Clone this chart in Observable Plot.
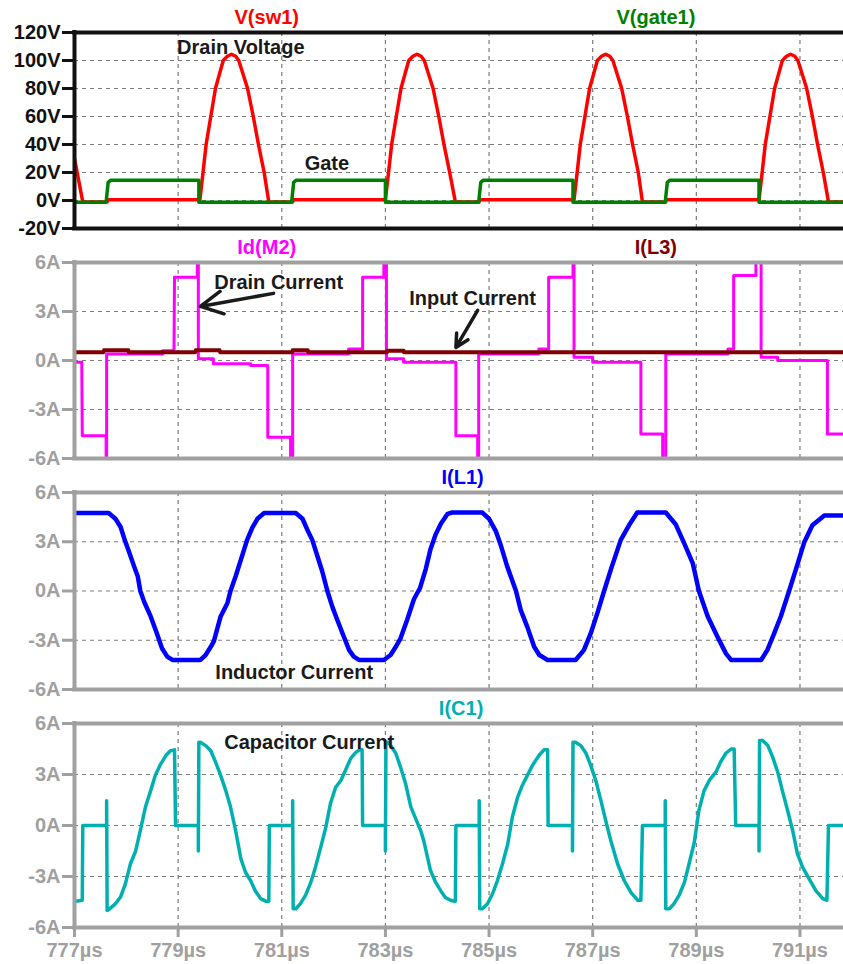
<!DOCTYPE html>
<html><head><meta charset="utf-8">
<script src="https://cdn.jsdelivr.net/npm/d3@7"></script>
<script src="https://cdn.jsdelivr.net/npm/@observablehq/plot@0.6"></script>
<style>
body{margin:0;background:#fff;}
#chart svg{display:block;}
</style>
</head><body><div id="chart"></div>
<script>
// ---------- data (time in µs) ----------
const xDomain = [777, 791.84];
const xTicks = [777, 779, 781, 783, 785, 787, 789, 791];
const vTicks = [-20, 0, 20, 40, 60, 80, 100, 120];
const aTicks = [-6, -3, 0, 3, 6];

// V(sw1) drain voltage [t, V]
const vSw1 = [[777.00,30],[777.16,-1],[777.63,-1],[777.64,0.5],[779.42,0.5],
 [779.48,20],[779.54,40],[779.63,60],[779.72,80],[779.87,100],[779.95,103],[780.03,104.5],[780.11,103],[780.17,100],[780.34,80],[780.45,60],[780.55,40],[780.66,20],[780.75,-1],
 [781.21,-1],[781.22,0.5],[783.00,0.5],
 [783.06,20],[783.12,40],[783.21,60],[783.30,80],[783.45,100],[783.53,103],[783.61,104.5],[783.69,103],[783.75,100],[783.92,80],[784.03,60],[784.13,40],[784.24,20],[784.35,-1],
 [784.81,-1],[784.82,0.5],[786.64,0.5],
 [786.70,20],[786.76,40],[786.85,60],[786.94,80],[787.09,100],[787.17,103],[787.25,104.5],[787.33,103],[787.39,100],[787.56,80],[787.67,60],[787.77,40],[787.88,20],[787.96,-1],
 [788.41,-1],[788.42,0.5],[790.21,0.5],
 [790.27,20],[790.33,40],[790.42,60],[790.51,80],[790.66,100],[790.74,103],[790.82,104.5],[790.90,103],[790.96,100],[791.13,80],[791.24,60],[791.34,40],[791.45,20],[791.55,-1],[791.84,-1]];

// V(gate1) [t, V]
const vGate1 = [[777.00,-1.2],[777.61,-1.2],[777.65,13],[777.70,14.5],[779.40,14.5],[779.40,-1.2],
 [781.19,-1.2],[781.23,13],[781.28,14.5],[783.00,14.5],[783.00,-1.2],
 [784.80,-1.2],[784.84,13],[784.89,14.5],[786.62,14.5],[786.62,-1.2],
 [788.40,-1.2],[788.44,13],[788.49,14.5],[790.21,14.5],[790.21,-1.2],[791.84,-1.2]];

// Id(M2) [t, A]
const idM2 = [[777.00,-0.1],[777.14,-0.1],[777.15,-4.6],[777.61,-4.6],[777.61,-8],[777.62,-8],[777.62,0.4],[778.70,0.4],[778.70,0.6],[778.92,0.6],[778.93,5.1],[779.37,5.1],[779.37,8],[779.39,8],[779.39,0.1],[779.68,0.1],[779.68,-0.2],[780.40,-0.2],[780.40,-0.3],[780.73,-0.3],[780.73,-4.7],[781.17,-4.7],[781.17,-8],[781.21,-8],[781.21,0.4],
 [782.29,0.4],[782.29,0.7],[782.56,0.7],[782.56,5.1],[782.97,5.1],[782.97,8],[783.02,8],[783.02,0.1],[783.35,0.1],[783.35,-0.1],[784.36,-0.1],[784.36,-4.6],[784.78,-4.6],[784.78,-8],[784.80,-8],[784.80,0.4],
 [785.96,0.4],[785.96,0.7],[786.15,0.7],[786.15,5.1],[786.62,5.1],[786.62,8],[786.64,8],[786.64,0.2],[787.00,0.2],[787.00,-0.1],[787.93,-0.1],[787.93,-4.5],[788.35,-4.5],[788.35,-8],[788.41,-8],[788.41,0.4],
 [789.61,0.4],[789.61,0.7],[789.72,0.7],[789.72,5.2],[790.15,5.2],[790.15,8],[790.25,8],[790.25,0.2],[790.57,0.2],[790.57,0.0],[791.53,0.0],[791.53,-4.5],[791.84,-4.5]];

// I(L3) input current [t, A]
const iL3 = [[777.00,0.5],[777.56,0.5],[777.57,0.62],[778.04,0.62],[778.05,0.5],[779.33,0.5],[779.34,0.62],[779.80,0.62],[779.81,0.5],
 [781.20,0.5],[781.21,0.62],[781.50,0.62],[781.51,0.5],[783.03,0.5],[783.04,0.6],[783.35,0.6],[783.36,0.5],[791.84,0.5]];

// I(L1) inductor current [t, A]
const iL1 = [[777.00,4.75],[777.66,4.75],[777.79,4.4],[777.89,3.9],[777.97,3.1],[778.05,2.4],[778.15,1.5],[778.22,0.9],[778.27,0],[778.35,-0.7],[778.47,-1.55],[778.58,-2.5],[778.69,-3.5],[778.79,-4.0],[778.89,-4.2],
 [779.43,-4.2],[779.53,-3.9],[779.63,-3.4],[779.69,-3.05],[779.82,-1.55],[779.95,-0.75],[780.01,0],[780.11,0.9],[780.21,1.9],[780.33,3.1],[780.43,3.85],[780.53,4.4],[780.66,4.75],
 [781.27,4.75],[781.40,4.4],[781.49,3.75],[781.59,3.1],[781.69,2.1],[781.78,1.2],[781.88,0],[781.98,-1.0],[782.07,-1.75],[782.20,-2.8],[782.30,-3.6],[782.39,-4.0],[782.49,-4.2],
 [782.97,-4.2],[783.10,-3.9],[783.20,-3.4],[783.29,-2.9],[783.42,-1.75],[783.55,-0.5],[783.67,0.2],[783.78,1.35],[783.87,2.55],[783.97,3.45],[784.07,4.1],[784.20,4.7],[784.29,4.78],
 [784.87,4.78],[785.00,4.4],[785.13,3.65],[785.23,2.75],[785.35,1.5],[785.52,0],[785.61,-1.15],[785.74,-2.2],[785.87,-3.4],[785.97,-3.9],[786.13,-4.2],
 [786.67,-4.2],[786.83,-3.6],[786.96,-2.6],[787.09,-1.35],[787.22,0],[787.35,1.3],[787.54,3.1],[787.70,4.0],[787.86,4.78],
 [788.41,4.78],[788.60,4.07],[788.76,2.95],[788.93,1.7],[789.05,0],[789.22,-1.55],[789.41,-2.8],[789.57,-3.8],[789.67,-4.2],
 [790.25,-4.2],[790.37,-3.6],[790.50,-2.6],[790.63,-1.55],[790.79,0],[790.92,1.3],[791.08,2.95],[791.24,4.0],[791.47,4.6],[791.84,4.6]];

// I(C1) capacitor current [t, A]
const iC1 = [[777.00,-4.47],[777.15,-4.4],[777.16,0],[777.62,0],[777.62,1.45],[777.63,-5.0],[777.66,-4.95],[777.79,-4.6],[777.89,-4.2],[777.98,-3.45],[778.08,-2.25],[778.18,-1.5],[778.27,-0.3],[778.37,1.1],[778.47,2.05],[778.56,2.95],[778.66,3.6],[778.76,4.1],[778.85,4.4],[778.93,4.45],[778.95,0],
 [779.39,0],[779.39,-1.5],[779.40,4.9],[779.43,4.9],[779.53,4.7],[779.63,4.4],[779.72,3.75],[779.82,2.95],[779.92,2.05],[780.01,1.1],[780.11,-0.3],[780.21,-1.95],[780.30,-2.75],[780.40,-3.25],[780.49,-3.85],[780.59,-4.3],[780.69,-4.45],[780.75,-4.45],[780.76,0],
 [781.21,0],[781.21,1.45],[781.22,-4.9],[781.27,-4.9],[781.36,-4.6],[781.46,-4.1],[781.56,-3.35],[781.65,-2.45],[781.75,-1.3],[781.85,-0.1],[781.94,1.3],[782.04,2.25],[782.14,2.65],[782.23,3.25],[782.33,3.95],[782.43,4.3],[782.50,4.45],[782.55,4.45],[782.56,0],
 [783.00,0],[783.00,-1.5],[783.01,4.9],[783.06,4.9],[783.20,4.25],[783.29,3.45],[783.39,2.45],[783.49,1.1],[783.68,-0.3],[783.74,-0.9],[783.81,-1.85],[783.87,-2.65],[783.97,-3.35],[784.07,-3.85],[784.16,-4.25],[784.26,-4.4],[784.32,-4.45],[784.35,-4.45],[784.36,0],
 [784.81,0],[784.81,1.45],[784.82,-4.9],[784.87,-4.9],[784.97,-4.6],[785.07,-4.0],[785.16,-3.25],[785.26,-2.25],[785.36,-1.1],[785.45,0.5],[785.55,1.65],[785.64,2.35],[785.74,2.95],[785.84,3.55],[785.97,4.15],[786.06,4.45],[786.13,4.45],[786.14,0],
 [786.61,0],[786.61,-1.5],[786.62,4.9],[786.67,4.9],[786.77,4.7],[786.87,4.25],[786.96,3.55],[787.06,2.65],[787.16,1.45],[787.25,0.3],[787.35,-0.9],[787.48,-2.25],[787.61,-3.25],[787.74,-3.95],[787.87,-4.4],[787.93,-4.4],[787.96,0],
 [788.40,0],[788.40,1.45],[788.41,-4.9],[788.48,-4.9],[788.57,-4.6],[788.67,-4.1],[788.77,-3.35],[788.86,-2.25],[788.96,-1.0],[789.05,0.9],[789.15,2.05],[789.25,2.65],[789.38,3.15],[789.47,3.75],[789.57,4.25],[789.67,4.5],[789.73,4.5],[789.76,0],
 [790.21,0],[790.21,-1.5],[790.22,5.0],[790.28,5.0],[790.38,4.7],[790.47,4.05],[790.57,3.15],[790.66,2.05],[790.76,0.9],[790.86,-0.3],[790.95,-1.65],[791.05,-2.45],[791.18,-3.15],[791.31,-3.85],[791.44,-4.3],[791.52,-4.4],[791.55,0],[791.84,0]];

// trace titles [label, t, colour]
const titlesTop = [["V(sw1)", 780.71, "#ff0000"], ["V(gate1)", 788.22, "#008000"]];
const titlesId = [["Id(M2)", 780.71, "#ff00ff"], ["I(L3)", 788.22, "#800000"]];
const titlesL1 = [["I(L1)", 784.49, "#0000ff"]];
const titlesC1 = [["I(C1)", 784.46, "#00b0b0"]];

// annotations [text, t, value]
const notesTop = [["Drain Voltage", 780.21, 109.3], ["Gate", 781.87, 26.4]];
const notesId = [["Drain Current", 780.94, 4.8], ["Input Current", 784.68, 3.8]];
const notesL1 = [["Inductor Current", 781.24, -4.94]];
const notesC1 = [["Capacitor Current", 781.53, 4.9]];
// annotation arrows [t1, v1, t2, v2]
const arrowsId = [[780.84, 4.11, 779.43, 3.31], [784.78, 3.07, 784.36, 0.80]];

// ---------- drawing ----------
const FONT = "'Liberation Sans', Arial, Helvetica, sans-serif";
const GRID = "#7a7a7a";

function panel(o) {
  const marks = [
    Plot.ruleX(xTicks, {stroke: GRID, strokeDasharray: "4,4", strokeWidth: 1.2}),
    Plot.ruleY(o.yTicks, {stroke: GRID, strokeDasharray: "4,4", strokeWidth: 1.2}),
    ...o.series.map(s => Plot.line(s.data, {x: d => d[0], y: d => d[1], stroke: s.color, strokeWidth: s.width, clip: true, strokeLinejoin: "round"})),
    ...(o.arrows ? [Plot.arrow(o.arrows, {x1: d => d[0], y1: d => d[1], x2: d => d[2], y2: d => d[3], stroke: "#1a1a1a", strokeWidth: 3.5, headLength: 16, headAngle: 55})] : []),
    Plot.text(o.notes, {x: d => d[1], y: d => d[2], text: d => d[0], fill: "#1a1a1a", fontSize: 20, fontWeight: "bold"}),
    Plot.text(o.titles, {x: d => d[1], text: d => d[0], fill: d => d[2], frameAnchor: "top", lineAnchor: "middle", dy: -15, fontSize: 20, fontWeight: "bold"}),
    Plot.ruleY([o.yDomain[0], o.yDomain[1]], {stroke: o.frame, strokeWidth: 4, strokeLinecap: "square"}),
    Plot.ruleX([xDomain[0]], {stroke: o.frame, strokeWidth: 4, strokeLinecap: "square"}),
    Plot.axisY(o.yTicks, {tickFormat: o.fmt, tickSize: 12, tickPadding: 2, color: o.axis, strokeWidth: 3, fontSize: 20, fontWeight: "bold", label: null}),
  ];
  if (o.showX) {
    marks.push(Plot.axisX(xTicks, {tickFormat: d => d + "µs", tickSize: 10, tickPadding: 5, color: o.axis, strokeWidth: 3, fontSize: 20, fontWeight: "bold", label: null}));
  }
  return Plot.plot({
    width: 843, height: o.height,
    marginLeft: 74, marginRight: 0, marginTop: o.marginTop, marginBottom: o.marginBottom,
    x: {domain: xDomain, axis: null},
    y: {domain: o.yDomain, axis: null},
    style: {fontFamily: FONT, fontSize: "20px", fontWeight: "bold", background: "#fff", overflow: "visible"},
    marks
  });
}

const root = document.getElementById("chart");
root.append(panel({height: 234, marginTop: 32, marginBottom: 6, yDomain: [-20, 120], yTicks: vTicks, fmt: d => d + "V",
  axis: "#111", frame: "#111",
  series: [{data: vSw1, color: "#ff0000", width: 3.5}, {data: vGate1, color: "#008000", width: 3.5}],
  titles: titlesTop, notes: notesTop}));
root.append(panel({height: 230, marginTop: 28, marginBottom: 6, yDomain: [-6, 6], yTicks: aTicks, fmt: d => d + "A",
  axis: "#a0a0a0", frame: "#a0a0a0",
  series: [{data: idM2, color: "#ff00ff", width: 3}, {data: iL3, color: "#800000", width: 4}],
  titles: titlesId, notes: notesId, arrows: arrowsId}));
root.append(panel({height: 231, marginTop: 28, marginBottom: 6, yDomain: [-6, 6], yTicks: aTicks, fmt: d => d + "A",
  axis: "#a0a0a0", frame: "#a0a0a0",
  series: [{data: iL1, color: "#0000ff", width: 4.5}],
  titles: titlesL1, notes: notesL1}));
root.append(panel({height: 269, marginTop: 28, marginBottom: 37, yDomain: [-6, 6], yTicks: aTicks, fmt: d => d + "A",
  axis: "#a0a0a0", frame: "#a0a0a0",
  series: [{data: iC1, color: "#00b0b0", width: 3.5}],
  titles: titlesC1, notes: notesC1, showX: true}));
</script></body></html>
